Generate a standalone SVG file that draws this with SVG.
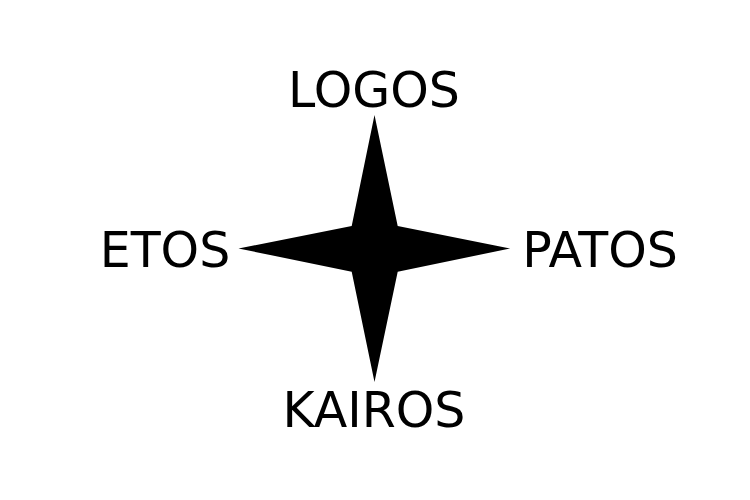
<svg xmlns="http://www.w3.org/2000/svg" width="750" height="500" viewBox="0 0 750 500">
<style>
.lbl{font-family:"DejaVu Sans",sans-serif;font-size:49px;fill:#000;text-anchor:middle}
</style>
<rect width="750" height="500" fill="#fff"/>
<g id="star">
<path d="M374.5,115 L397.7,226 L510,248.5 L397.7,271.7 L374.5,382 L351.7,271.7 L238.5,248.5 L351.7,226 Z" fill="#000"/>
</g>
<g id="logos"><text class="lbl" x="374" y="107">LOGOS</text></g>
<g id="etos"><text class="lbl" x="165" y="267">ETOS</text></g>
<g id="patos"><text class="lbl" x="600" y="267">PATOS</text></g>
<g id="kairos"><text class="lbl" x="374" y="427">KAIROS</text></g>
<g id="connectors"></g>
</svg>
